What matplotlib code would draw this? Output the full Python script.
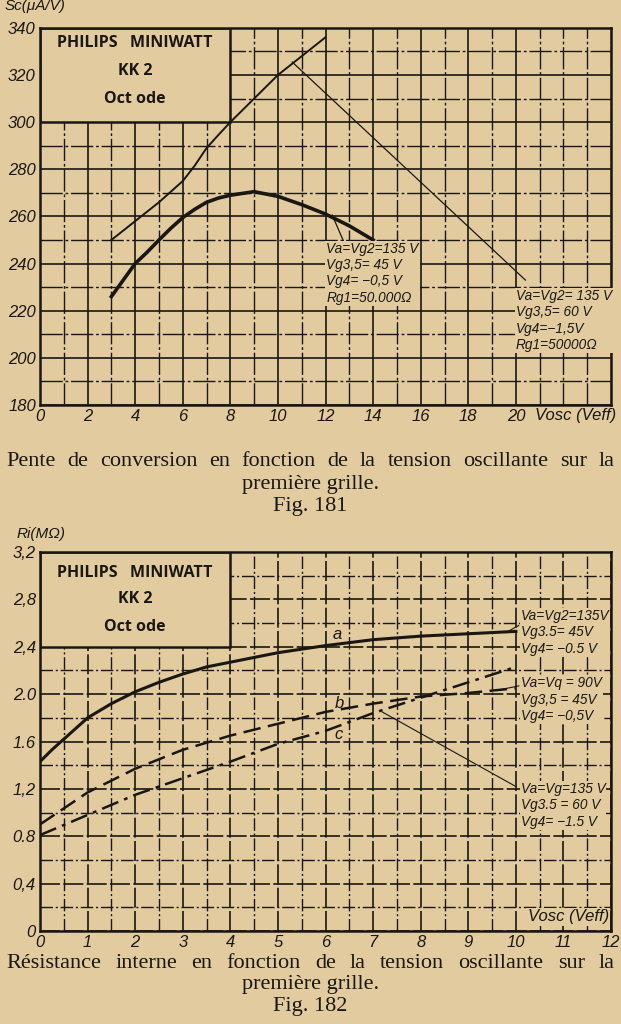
import matplotlib
matplotlib.use("Agg")
import matplotlib.pyplot as plt
from matplotlib.patches import Rectangle
from matplotlib.ticker import MultipleLocator

# ---------------- data ----------------
# Fig. 181 : conversion slope Sc (µA/V) vs Vosc (Veff)
sc_x_thin = [3, 4, 5, 6, 6.5, 7, 7.5, 8, 9, 10, 11, 12]
sc_y_thin = [250, 258, 266, 275, 281.5, 289, 294.6, 300, 310, 320, 328, 336]
sc_x_thick = [3, 3.5, 4, 4.5, 5, 5.5, 6, 6.5, 7, 7.5, 8, 9, 10, 11, 12, 13, 14]
sc_y_thick = [226, 233, 240, 244.8, 250, 255, 259.5, 263, 266, 267.8, 269, 270.5, 268.5, 265, 261, 256, 250]
sc_xticks = [0, 2, 4, 6, 8, 10, 12, 14, 16, 18, 20]
sc_yticks = [180, 200, 220, 240, 260, 280, 300, 320, 340]

# Fig. 182 : internal resistance Ri (MΩ) vs Vosc (Veff)
ri_x_a = [0, 0.25, 0.5, 1, 1.5, 2, 2.5, 3, 3.5, 4, 4.5, 5, 5.5, 6, 7, 8, 9, 10]
ri_a = [1.43, 1.53, 1.62, 1.80, 1.92, 2.02, 2.10, 2.17, 2.23, 2.27, 2.31, 2.35, 2.38, 2.41, 2.46, 2.49, 2.51, 2.53]
ri_x_bc = [0, 1, 2, 3, 4, 5, 6, 7, 8, 9, 10]
ri_b = [0.90, 1.17, 1.37, 1.53, 1.65, 1.75, 1.85, 1.92, 1.98, 2.01, 2.05]
ri_c = [0.81, 0.98, 1.15, 1.29, 1.43, 1.58, 1.69, 1.84, 1.97, 2.10, 2.23]
ri_xticks = [0, 1, 2, 3, 4, 5, 6, 7, 8, 9, 10, 11, 12]
ri_yticks = [0, 0.4, 0.8, 1.2, 1.6, 2.0, 2.4, 2.8, 3.2]
ri_ylabels = ["0", "0,4", "0.8", "1,2", "1.6", "2.0", "2,4", "2,8", "3,2"]

BG = "#E2CB9E"
INK = "#1a1712"
HAND = ["Liberation Sans", "DejaVu Sans"]
SERIF = ["Liberation Serif", "DejaVu Serif"]
HEAD = ["Open Sans", "DejaVu Sans"]

fig = plt.figure(figsize=(6.21, 10.24), dpi=100, facecolor=BG)

def style_axes(ax, xmaj, xmin, ymaj, ymin, gridmaj, gridmin):
    ax.set_facecolor(BG)
    ax.set_axisbelow(True)
    ax.xaxis.set_major_locator(MultipleLocator(xmaj))
    ax.xaxis.set_minor_locator(MultipleLocator(xmin))
    ax.yaxis.set_major_locator(MultipleLocator(ymaj))
    ax.yaxis.set_minor_locator(MultipleLocator(ymin))
    ax.grid(True, which="major", color=INK, lw=1.2, ls=gridmaj)
    ax.grid(True, which="minor", color=INK, lw=1.0, ls=gridmin)
    for s in ax.spines.values():
        s.set_linewidth(1.8)
        s.set_color(INK)
    ax.tick_params(which="both", length=0, pad=3, colors=INK)

def title_box(ax, x0, y0, w, h, cx, ys):
    ax.add_patch(Rectangle((x0, y0), w, h, facecolor=BG, edgecolor=INK, lw=1.8, zorder=1.5))
    for txt, y in zip(["PHILIPS   MINIWATT", "KK 2", "Oct ode"], ys):
        ax.text(cx, y, txt, ha="center", va="center", family=HEAD, fontweight="bold",
                fontsize=11.5, color=INK, zorder=3)

ann_kw = dict(family=HAND, style="italic", fontsize=9.8, color=INK, ha="left", va="top",
              linespacing=1.22, zorder=4,
              bbox=dict(facecolor=BG, edgecolor="none", pad=0.8))
tick_kw = dict(family=HAND, style="italic", fontsize=12)

fig.canvas.draw()
renderer = fig.canvas.get_renderer()
CAP = 16

def justified(text, ypx, left=6, right=615, size=CAP):
    words = text.split()
    objs = [fig.text(0, 1 - ypx / 1024, w, ha="left", va="center", family=SERIF,
                     fontsize=size, color=INK) for w in words]
    widths = [o.get_window_extent(renderer).width for o in objs]
    gap = (right - left - sum(widths)) / (len(words) - 1)
    x = left
    for o, w in zip(objs, widths):
        o.set_x(x / 621)
        x += w + gap

def centered(text, ypx, size=CAP):
    fig.text(0.5, 1 - ypx / 1024, text, ha="center", va="center", family=SERIF,
             fontsize=size, color=INK)

# ---------------- Fig. 181 ----------------
ax1 = fig.add_axes([0.0644, 0.6045, 0.9196, 0.3683])
ax1.set_xlim(0, 24)
ax1.set_ylim(180, 340)
style_axes(ax1, 2, 1, 20, 10, "-", (0, (16, 2, 2, 2)))
ax1.set_xticks(sc_xticks)
ax1.set_yticks(sc_yticks)
ax1.set_xticklabels([str(v) for v in sc_xticks], **tick_kw)
ax1.set_yticklabels([str(v) for v in sc_yticks], **tick_kw)
title_box(ax1, 0, 300, 8, 40, 4.0, [333.5, 321.8, 310])

ax1.plot(sc_x_thin, sc_y_thin, color=INK, lw=1.4, zorder=3)
ax1.plot(sc_x_thick, sc_y_thick, color=INK, lw=2.6, zorder=3)

ax1.plot([12.28, 12.79], [260.6, 248.7], color=INK, lw=0.9, zorder=3)
ax1.text(12.03, 249.3, "Va=Vg2=135 V\nVg3,5= 45 V\nVg4= \u22120,5 V\nRg1=50.000\u03A9", **ann_kw)
ax1.plot([10.6, 20.4], [325.5, 233.0], color=INK, lw=0.9, zorder=3)
ax1.text(20.0, 229.3, "Va=Vg2= 135 V\nVg3,5= 60 V\nVg4=\u22121,5V\nRg1=50000\u03A9", **ann_kw)

ax1.annotate("Vosc (Veff)", xy=(22.5, 0), xycoords=("data", "axes fraction"),
             xytext=(0, -11), textcoords="offset pixels", ha="center", va="center",
             color=INK, annotation_clip=False, **tick_kw)
fig.text(0.008, 1 - 6 / 1024, "Sc(\u03BCA/V)", ha="left", va="center", family=HAND,
         style="italic", fontsize=11, color=INK)

justified("Pente de conversion en fonction de la tension oscillante sur la", 462)
centered("premi\u00e8re grille.", 484)
centered("Fig. 181", 506)

# ---------------- Fig. 182 ----------------
ax2 = fig.add_axes([0.0644, 0.0908, 0.9196, 0.3701])
ax2.set_xlim(0, 12)
ax2.set_ylim(0, 3.2)
style_axes(ax2, 1, 0.5, 0.4, 0.2, (0, (12, 2)), (0, (9, 2, 1.5, 2)))
ax2.set_xticks(ri_xticks)
ax2.set_yticks(ri_yticks)
ax2.set_xticklabels([str(v) for v in ri_xticks], **tick_kw)
ax2.set_yticklabels(ri_ylabels, **tick_kw)
title_box(ax2, 0, 2.4, 4, 0.8, 2.0, [3.02, 2.80, 2.57])

ax2.plot(ri_x_a, ri_a, color=INK, lw=2.2, zorder=3)
ax2.plot(ri_x_bc, ri_b, color=INK, lw=1.8, ls=(0, (7, 3)), zorder=3)
ax2.plot(ri_x_bc, ri_c, color=INK, lw=1.8, ls=(0, (7, 2.5, 1.5, 2.5)), zorder=3)

lab_kw = dict(family=HAND, style="italic", fontsize=12, color=INK, ha="center", va="center", zorder=4)
ax2.text(6.25, 2.50, "a", **lab_kw)
ax2.text(6.3, 1.92, "b", **lab_kw)
ax2.text(6.28, 1.66, "c", **lab_kw)

ax2.plot([9.79, 10.06], [2.52, 2.58], color=INK, lw=0.8, zorder=3)
ax2.text(10.1, 2.72, "Va=Vg2=135V\nVg3.5= 45V\nVg4= \u22120.5 V", **ann_kw)
ax2.plot([9.7, 10.06], [2.04, 2.07], color=INK, lw=0.8, zorder=3)
ax2.text(10.1, 2.15, "Va=Vq = 90V\nVg3,5 = 45V\nVg4= \u22120,5V", **ann_kw)
ax2.plot([7.19, 10.0], [1.85, 1.22], color=INK, lw=0.8, zorder=3)
ax2.text(10.1, 1.26, "Va=Vg=135 V\nVg3.5 = 60 V\nVg4= \u22121.5 V", **ann_kw)

ax2.text(11.1, 0.12, "Vosc (Veff)", color=INK, ha="center", va="center", zorder=4,
         bbox=dict(facecolor=BG, edgecolor="none", pad=1.0), **tick_kw)
fig.text(0.027, 1 - 534 / 1024, "Ri(M\u03A9)", ha="left", va="center", family=HAND,
         style="italic", fontsize=11, color=INK)

justified("R\u00e9sistance interne en fonction de la tension oscillante sur la", 963)
centered("premi\u00e8re grille.", 985)
centered("Fig. 182", 1007)

fig.savefig("out.png", dpi=100, facecolor=BG)
